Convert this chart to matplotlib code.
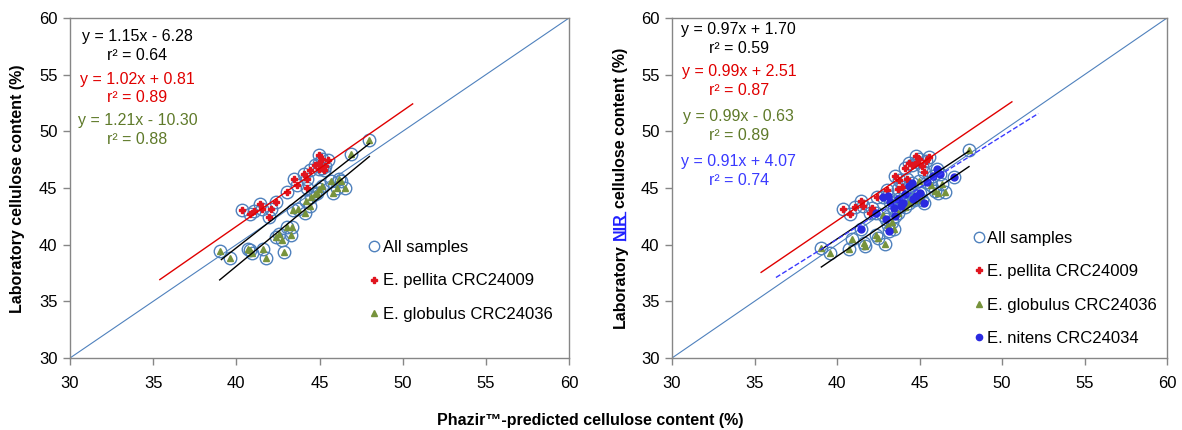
import numpy as np
import matplotlib.pyplot as plt
from matplotlib.lines import Line2D

plt.rcParams['font.family'] = ['Liberation Sans', 'DejaVu Sans']

# ---- left panel: Phazir-predicted vs laboratory ----
left_pel_x = [40.32, 40.80, 41.06, 41.45, 41.54, 42.07, 41.94, 42.40, 43.02, 43.46, 43.62, 44.09,
              44.25, 44.25, 44.43, 44.71, 44.94, 44.99, 45.17, 45.36, 45.29, 45.52, 44.94, 45.13]
left_pel_y = [43.05, 42.67, 42.96, 43.55, 43.11, 43.17, 42.46, 43.76, 44.64, 45.76, 45.29, 46.21,
              45.76, 45.00, 46.59, 47.00, 47.92, 47.24, 47.59, 46.94, 46.59, 47.47, 46.65, 46.80]
left_glob_x = [39.02, 39.60, 40.69, 40.80, 40.92, 41.59, 41.77, 42.86, 42.40, 42.56, 42.72, 43.05,
               43.37, 43.28, 43.39, 43.69, 44.13, 44.18, 44.43, 44.48, 44.71, 44.85, 45.17, 45.68,
               45.82, 46.05, 46.28, 46.51, 46.15, 46.91, 48.00, 44.94]
left_glob_y = [39.40, 38.81, 39.63, 39.52, 39.28, 39.58, 38.81, 39.37, 40.69, 40.93, 40.40, 41.52,
               41.55, 40.87, 43.05, 43.11, 42.82, 43.82, 43.41, 44.23, 44.50, 44.59, 45.17, 45.62,
               44.59, 45.03, 45.62, 45.03, 45.76, 48.03, 49.27, 44.94]

# ---- right panel: laboratory NIR ----
right_pel_x = [40.37, 40.80, 41.09, 41.47, 41.56, 41.99, 42.10, 42.44, 43.04, 43.49, 43.67, 43.74,
               44.12, 44.23, 44.34, 44.52, 44.79, 44.86, 44.97, 45.15, 45.28, 45.42, 45.60, 43.94]
right_pel_y = [43.11, 42.73, 43.35, 43.82, 43.41, 42.82, 43.26, 44.17, 44.82, 46.06, 44.94, 45.71,
               46.80, 45.76, 47.18, 47.06, 47.83, 47.30, 47.59, 46.94, 46.41, 47.42, 47.71, 45.09]
right_glob_x = [39.05, 39.59, 40.71, 40.89, 41.61, 41.72, 42.37, 42.50, 42.88, 43.11, 43.33, 43.44,
                44.12, 44.39, 44.68, 44.90, 44.97, 45.15, 45.68, 45.95, 46.13, 46.36, 46.54, 47.99,
                42.77, 43.67]
right_glob_y = [39.72, 39.28, 39.63, 40.52, 40.16, 39.87, 40.87, 40.58, 40.08, 41.76, 41.99, 41.34,
                43.35, 43.64, 43.94, 44.29, 45.62, 43.94, 45.29, 44.73, 44.59, 45.32, 44.65, 48.36,
                42.58, 42.82]
right_nit_x = [42.37, 41.43, 42.77, 43.11, 43.22, 43.44, 43.67, 43.85, 44.00, 44.12, 44.34, 44.52,
               44.61, 44.79, 45.06, 45.46, 46.04, 46.25, 47.07, 43.17, 42.99, 43.49, 45.28, 45.80]
right_nit_y = [42.82, 41.40, 44.17, 44.29, 43.76, 43.26, 44.00, 43.41, 43.64, 44.44, 45.18, 45.47,
               44.06, 44.29, 44.53, 45.53, 46.71, 46.21, 46.00, 41.20, 42.23, 42.52, 43.70, 46.06]

# trendlines: (slope, intercept, x start, x end, colour, style)
left_fits = [(1.15, -6.28, 39.1, 48.0, 'black', '-'),
             (1.02, 0.81, 35.4, 50.6, '#e00000', '-'),
             (1.21, -10.30, 39.0, 48.0, 'black', '-')]
right_fits = [(0.97, 1.70, 39.05, 48.0, 'black', '-'),
              (0.99, 2.51, 35.4, 50.6, '#e00000', '-'),
              (0.99, -0.63, 39.05, 48.0, 'black', '-'),
              (0.91, 4.07, 36.3, 52.2, '#3a3aff', '--')]

# equation labels: (equation, r2 text, y of equation, y of r2, colour)
left_eqs = [('y = 1.15x - 6.28', 'r² = 0.64', 58.38, 56.67, 'black'),
            ('y = 1.02x + 0.81', 'r² = 0.89', 54.60, 52.96, '#e00000'),
            ('y = 1.21x - 10.30', 'r² = 0.88', 50.92, 49.27, '#5f7a2a')]
right_eqs = [('y = 0.97x + 1.70', 'r² = 0.59', 58.97, 57.32, 'black'),
             ('y = 0.99x + 2.51', 'r² = 0.87', 55.25, 53.58, '#e00000'),
             ('y = 0.99x - 0.63', 'r² = 0.89', 51.28, 49.60, '#5f7a2a'),
             ('y = 0.91x + 4.07', 'r² = 0.74', 47.33, 45.68, '#3a3aff')]

ring_c = '#4f81bd'
pel_c = '#e0141e'
glob_c = '#77933c'
nit_c = '#2a2ae0'
spine_c = '#868686'


def setup(ax):
    ax.set_xlim(30, 60)
    ax.set_ylim(30, 60)
    ax.set_xticks(range(30, 61, 5))
    ax.set_yticks(range(30, 61, 5))
    for s in ax.spines.values():
        s.set_color(spine_c)
        s.set_linewidth(1)
    ax.tick_params(direction='out', length=5, width=1, color=spine_c, labelsize=12, pad=4)
    ax.tick_params(axis='x', pad=8)
    ax.plot([30, 60], [30, 60], color=ring_c, lw=0.8, zorder=1)


def draw(ax, groups, fits, eqs, legend_anchor):
    allx = np.concatenate([g[0] for g in groups])
    ally = np.concatenate([g[1] for g in groups])
    ax.plot(allx, ally, 'o', ms=9, mfc='none', mec=ring_c, mew=1.0, zorder=2)
    for gx, gy, mk, c, ms, lab in groups:
        ax.plot(gx, gy, mk, ms=ms, color=c, mec=c, zorder=3)
    for m, b, x0, x1, c, ls in fits:
        xs = np.array([x0, x1])
        ax.plot(xs, m * xs + b, color=c, ls=ls, lw=1.0, zorder=4)
    for eq, r2, ye, yr, c in eqs:
        ax.text(34.05, ye, eq, color=c, fontsize=11.5, ha='center', va='center')
        ax.text(34.05, yr, r2, color=c, fontsize=11.5, ha='center', va='center')
    handles = [Line2D([], [], marker='o', ls='none', ms=7.5, mfc='none', mec=ring_c, mew=1.0)]
    labels = ['All samples']
    for gx, gy, mk, c, ms, lab in groups:
        handles.append(Line2D([], [], marker=mk, ls='none', ms=ms - 0.5, color=c))
        labels.append(lab)
    ax.legend(handles, labels, loc='upper left', bbox_to_anchor=legend_anchor, frameon=False,
              fontsize=12, handlelength=0.6, handletextpad=0.2, labelspacing=1.1,
              borderpad=0, borderaxespad=0)


fig = plt.figure(figsize=(11.82, 4.30), dpi=100)
axL = fig.add_axes([70 / 1182, 1 - 358 / 430, 499 / 1182, 340 / 430])
axR = fig.add_axes([672 / 1182, 1 - 358 / 430, 495 / 1182, 340 / 430])
setup(axL)
setup(axR)

draw(axL, [(left_pel_x, left_pel_y, 'P', pel_c, 5, 'E. pellita CRC24009'),
           (left_glob_x, left_glob_y, '^', glob_c, 4.5, 'E. globulus CRC24036')],
     left_fits, left_eqs, (0.6, 0.347))
draw(axR, [(right_pel_x, right_pel_y, 'P', pel_c, 5, 'E. pellita CRC24009'),
           (right_glob_x, right_glob_y, '^', glob_c, 4.5, 'E. globulus CRC24036'),
           (right_nit_x, right_nit_y, 'o', nit_c, 5, 'E. nitens CRC24034')],
     right_fits, right_eqs, (0.61, 0.374))

fig.text(0.499, 1 - 420 / 430, 'Phazir™-predicted cellulose content (%)', ha='center', va='center',
         fontsize=11.5, fontweight='bold')
fig.text(18 / 1182, 1 - 189 / 430, 'Laboratory cellulose content (%)', rotation=90, ha='center',
         va='center', fontsize=11.5, fontweight='bold')

# right y label, with "NIR" in blue and underlined
r = fig.canvas.get_renderer()
parts = [('Laboratory', 'black', False), ('NIR', '#2020ff', True), ('cellulose content (%)', 'black', False)]
xlab = 620 / 1182 * fig.bbox.width
gap = 0.278 * 11.5 * 100 / 72
objs = []
for s, c, u in parts:
    t = fig.text(0, 0, s, rotation=90, ha='center', va='bottom', fontsize=11.5, fontweight='bold',
                 color=c, transform=None)
    objs.append((t, u))
hs = [t.get_window_extent(r).height for t, u in objs]
total = sum(hs) + gap * (len(hs) - 1)
y = (1 - 188 / 430) * fig.bbox.height - total / 2
for (t, u), h in zip(objs, hs):
    t.set_position((xlab, y))
    if u:
        bb = t.get_window_extent(r)
        ux = bb.x1 - 3
        fig.add_artist(Line2D([ux, ux], [y, y + h], color='#2020ff', lw=1.0, transform=None))
    y += h + gap

fig.savefig('out.png', dpi=100)
